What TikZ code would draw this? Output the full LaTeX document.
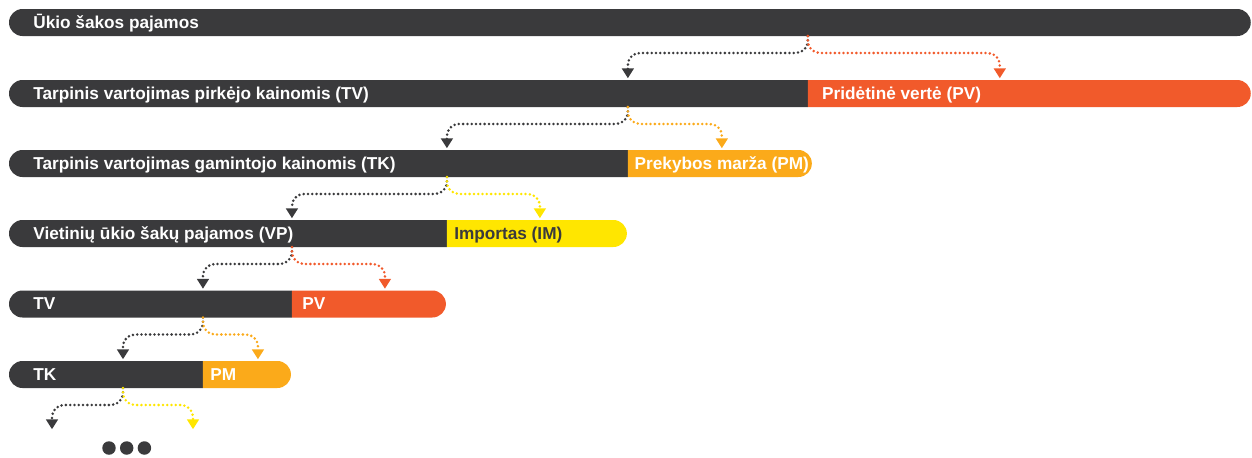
\documentclass[tikz,border=0pt]{standalone}
\usepackage{fontspec}
\setmainfont{Liberation Sans}
\usetikzlibrary{positioning,shapes.misc,arrows.meta}

\definecolor{bardark}{HTML}{3A3A3C}
\definecolor{barorange}{HTML}{F15A2B}
\definecolor{baramber}{HTML}{FBAA1A}
\definecolor{baryellow}{HTML}{FFE600}

\tikzstyle{bar} = [rounded rectangle, inner sep=0pt, outer sep=0pt, minimum height=0.54cm, anchor=west]
\tikzstyle{leftbar} = [bar, fill=bardark, rounded rectangle right arc=none]
\tikzstyle{rightbar} = [bar, rounded rectangle left arc=none]
\tikzstyle{txt} = [anchor=west, inner sep=0pt, text=white, text height=7pt, text depth=0.6pt, font=\fontsize{9.8}{12}\selectfont\bfseries]
\tikzstyle{flow} = [draw, line width=1.6pt, dash pattern=on 0pt off 2.45pt, line cap=round, rounded corners=0.24cm, shorten >=1pt, -{Triangle[width=6.6pt,length=5.6pt]}]
\tikzstyle{dot} = [circle, fill=bardark, inner sep=0pt, minimum size=0.27cm]

\begin{document}
\begin{tikzpicture}[x=0.02cm, y=-0.02cm]
	\useasboundingbox (0,0) rectangle (1252,457);
	% bars
	\node (ukis) at (9,22.5) [bar, fill=bardark, minimum width=24.84cm] {};
	\node (tv1) at (9,93.5) [leftbar, minimum width=15.98cm] {};
	\node (pv1) [rightbar, fill=barorange, minimum width=8.86cm, right=0pt of tv1] {};
	\node (tk1) at (9,163.5) [leftbar, minimum width=12.38cm] {};
	\node (pm1) [rightbar, fill=baramber, minimum width=3.68cm, right=0pt of tk1] {};
	\node (vp) at (9,233.5) [leftbar, minimum width=8.76cm] {};
	\node (im) [rightbar, fill=baryellow, minimum width=3.6cm, right=0pt of vp] {};
	\node (tv2) at (9,304) [leftbar, minimum width=5.66cm] {};
	\node (pv2) [rightbar, fill=barorange, minimum width=3.08cm, right=0pt of tv2] {};
	\node (tk2) at (9,374.5) [leftbar, minimum width=3.88cm] {};
	\node (pm2) [rightbar, fill=baramber, minimum width=1.76cm, right=0pt of tk2] {};
	% texts
	\node (lukis) [txt, right=0.48cm of ukis.west] {Ūkio šakos pajamos};
	\node (ltv1) [txt, right=0.48cm of tv1.west] {Tarpinis vartojimas pirkėjo kainomis (TV)};
	\node (lpv1) [txt, right=0.28cm of pv1.west] {Pridėtinė vertė (PV)};
	\node (ltk1) [txt, right=0.48cm of tk1.west] {Tarpinis vartojimas gamintojo kainomis (TK)};
	\node (lpm1) [txt, right=0.13cm of pm1.west] {Prekybos marža (PM)};
	\node (lvp) [txt, right=0.48cm of vp.west] {Vietinių ūkio šakų pajamos (VP)};
	\node (lim) [txt, text=bardark, right=0.14cm of im.west] {Importas (IM)};
	\node (ltv2) [txt, right=0.48cm of tv2.west] {TV};
	\node (lpv2) [txt, right=0.2cm of pv2.west] {PV};
	\node (ltk2) [txt, right=0.48cm of tk2.west] {TK};
	\node (lpm2) [txt, right=0.14cm of pm2.west] {PM};
	% split points
	\coordinate (s1) at (tv1.east |- ukis.south);
	\coordinate (s2) at (tk1.east |- tv1.south);
	\coordinate (s3) at (vp.east |- tk1.south);
	\coordinate (s4) at (tv2.east |- vp.south);
	\coordinate (s5) at (tk2.east |- tv2.south);
	\coordinate (s6) at (123,388);
	\coordinate (end1) at (52,431);
	\coordinate (end2) at (193,431);
	% connectors
	\path[flow, bardark] (s1) -- ([yshift=-0.34cm]s1) -| (tk1.east |- tv1.north);
	\path[flow, barorange] (s1) -- ([yshift=-0.34cm]s1) -| ([xshift=3.84cm]pv1.west |- pv1.north);
	\path[flow, bardark] (s2) -- ([yshift=-0.34cm]s2) -| (vp.east |- tk1.north);
	\path[flow, baramber] (s2) -- ([yshift=-0.34cm]s2) -| ([xshift=1.88cm]pm1.west |- pm1.north);
	\path[flow, bardark] (s3) -- ([yshift=-0.34cm]s3) -| (tv2.east |- vp.north);
	\path[flow, baryellow] (s3) -- ([yshift=-0.34cm]s3) -| ([xshift=1.86cm]im.west |- im.north);
	\path[flow, bardark] (s4) -- ([yshift=-0.34cm]s4) -| (tk2.east |- tv2.north);
	\path[flow, barorange] (s4) -- ([yshift=-0.34cm]s4) -| ([xshift=1.86cm]pv2.west |- pv2.north);
	\path[flow, bardark] (s5) -- ([yshift=-0.34cm]s5) -| (s6 |- tk2.north);
	\path[flow, baramber] (s5) -- ([yshift=-0.34cm]s5) -| ([xshift=1.1cm]pm2.west |- pm2.north);
	\path[flow, bardark] (s6) -- ([yshift=-0.34cm]s6) -| (end1);
	\path[flow, baryellow] (s6) -- ([yshift=-0.34cm]s6) -| (end2);
	% dots
	\node (dot1) at (109,448) [dot] {};
	\node (dot2) [dot, right=0.07cm of dot1] {};
	\node (dot3) [dot, right=0.07cm of dot2] {};
\end{tikzpicture}
\end{document}
